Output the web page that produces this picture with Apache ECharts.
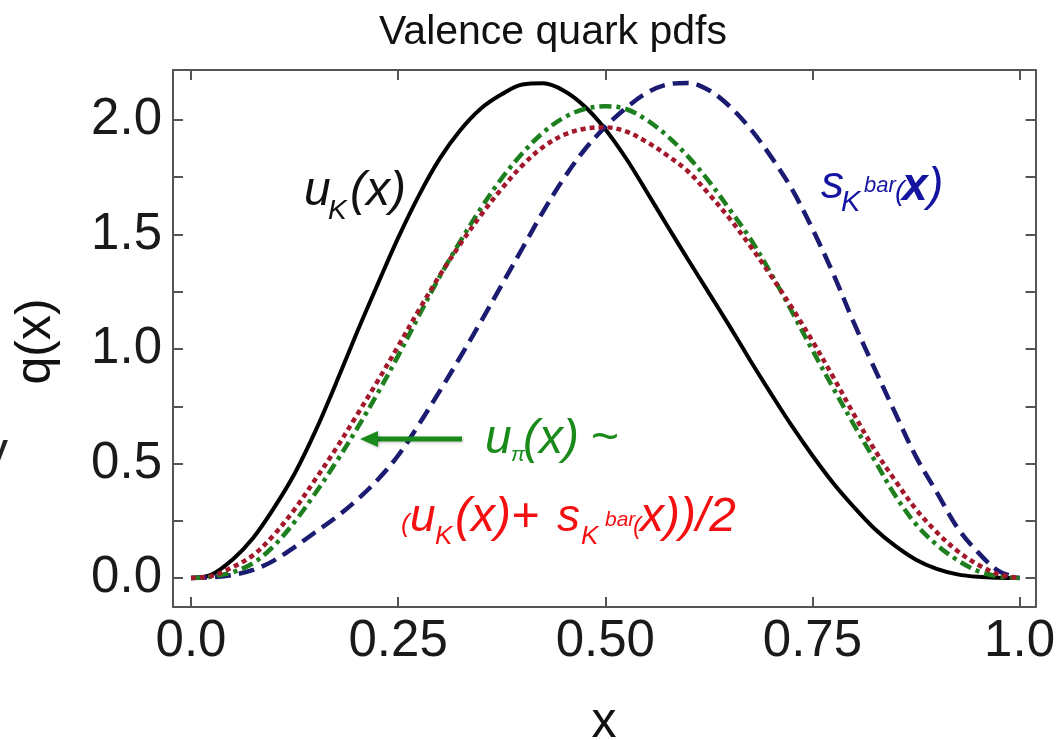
<!DOCTYPE html>
<html>
<head>
<meta charset="utf-8">
<script src="https://cdn.jsdelivr.net/npm/echarts@6/dist/echarts.min.js"></script>
<style>
html,body{margin:0;padding:0;background:#fff;}
#c{width:1058px;height:740px;}
</style>
</head>
<body>
<div id="c"></div>
<script>
// ---- data ----
const xTicks = [0, 0.25, 0.5, 0.75, 1.0];
const xTickLabels = ['0.0', '0.25', '0.50', '0.75', '1.0'];
const yTicks = [0, 0.25, 0.5, 0.75, 1.0, 1.25, 1.5, 1.75, 2.0];
const yLabelValues = [0, 0.5, 1.0, 1.5, 2.0];
const yTickLabels = ['0.0', '0.5', '1.0', '1.5', '2.0'];

// sample positions along x
const xs = [0,0.025,0.05,0.075,0.1,0.125,0.15,0.175,0.2,0.225,0.25,0.275,0.3,0.325,0.35,0.375,0.4,0.425,0.45,0.475,0.5,0.525,0.55,0.575,0.6,0.625,0.65,0.675,0.7,0.725,0.75,0.775,0.8,0.825,0.85,0.875,0.9,0.925,0.95,0.975,1.0];
// u_K(x)  (black solid)
const uK    = [0,0.015,0.08,0.175,0.305,0.455,0.64,0.85,1.07,1.28,1.485,1.67,1.83,1.955,2.05,2.112,2.155,2.16,2.128,2.06,1.96,1.833,1.687,1.537,1.39,1.245,1.1,0.95,0.805,0.665,0.535,0.415,0.31,0.215,0.14,0.08,0.04,0.016,0.005,0.001,0];
// s_K^bar(x)  (navy dashed)
const sKbar = [0,0.003,0.013,0.035,0.076,0.135,0.2,0.265,0.34,0.428,0.535,0.67,0.815,0.965,1.12,1.28,1.44,1.6,1.745,1.87,1.97,2.052,2.118,2.155,2.162,2.13,2.06,1.962,1.84,1.7,1.525,1.33,1.115,0.915,0.72,0.53,0.375,0.22,0.112,0.03,0];
// u_pi(x)  (green dash-dot)
const uPi   = [0,0.006,0.025,0.065,0.14,0.245,0.37,0.505,0.65,0.805,0.97,1.145,1.315,1.47,1.615,1.745,1.855,1.945,2.01,2.048,2.06,2.048,2.0,1.93,1.84,1.733,1.61,1.482,1.33,1.165,0.995,0.83,0.67,0.515,0.36,0.235,0.145,0.078,0.03,0.007,0];
// (u_K + s_K^bar)/2  (red dotted)
const uAvg  = [0,0.009,0.047,0.1,0.188,0.3,0.43,0.565,0.71,0.858,1.012,1.17,1.32,1.458,1.585,1.70,1.802,1.882,1.935,1.962,1.968,1.95,1.904,1.845,1.775,1.677,1.57,1.45,1.32,1.182,1.035,0.878,0.715,0.56,0.425,0.3,0.2,0.118,0.058,0.016,0];

// ---- layout ----
const XMIN = -0.0217, XMAX = 1.0193, YMIN = -0.1266, YMAX = 2.2183;
const FONT = '"Liberation Sans", Arial, Helvetica, sans-serif';
const FRAME = '#555';

function lab(vals, labels) {
  return function (v) {
    for (let i = 0; i < vals.length; i++) if (Math.abs(vals[i] - v) < 1e-9) return labels[i];
    return '';
  };
}
function axisX(pos, showLabel) {
  return {
    type: 'value', min: XMIN, max: XMAX, position: pos,
    axisLine: { show: true, onZero: false, lineStyle: { color: FRAME, width: 2 } },
    axisTick: { show: true, inside: true, length: 10, customValues: xTicks, lineStyle: { color: FRAME, width: 2 } },
    axisLabel: { show: showLabel, customValues: xTicks, formatter: lab(xTicks, xTickLabels), fontSize: 51, fontFamily: FONT, color: '#1a1a1a', margin: 9 },
    splitLine: { show: false }
  };
}
function axisY(pos, showLabel) {
  return {
    type: 'value', min: YMIN, max: YMAX, position: pos,
    axisLine: { show: true, onZero: false, lineStyle: { color: FRAME, width: 2 } },
    axisTick: { show: true, inside: true, length: 10, customValues: yTicks, lineStyle: { color: FRAME, width: 2 } },
    axisLabel: { show: showLabel, customValues: yLabelValues, formatter: lab(yLabelValues, yTickLabels), fontSize: 51, fontFamily: FONT, color: '#1a1a1a', margin: 11 },
    splitLine: { show: false }
  };
}
// text piece placed by its baseline
function t(str, x, base, size, color, italic, extra, bold) {
  return {
    type: 'text', z: 100,
    style: Object.assign({
      text: str, x: x, y: base - 0.33 * size,
      font: (italic ? 'italic ' : '') + (bold ? 'bold ' : '') + size + 'px ' + FONT,
      fill: color, align: 'left', verticalAlign: 'middle',
      textAlign: 'left', textVerticalAlign: 'middle'
    }, extra || {})
  };
}
const BLK = '#111', BLU = '#1414a0', GRN = '#1a8a1a', RED = '#f41010';

const graphics = [
  t('Valence quark pdfs', 553, 46, 41, '#111', false, { align: 'center', textAlign: 'center' }),
  { type: 'text', z: 100, x: 36, y: 341.5, rotation: Math.PI / 2,
    style: { text: 'q(x)', x: 0, y: 0, font: '50px ' + FONT, fill: '#111', align: 'center', verticalAlign: 'middle', textAlign: 'center', textVerticalAlign: 'middle' } },
  t('x', 604, 740, 50, '#111', false, { align: 'center', textAlign: 'center' }),
  t('y', -17, 470, 50, '#222', false),
  // u_K(x)
  t('u', 304, 207, 48, BLK, true),
  t('K', 328, 220, 28, BLK, true),
  t('(x)', 350, 207, 48, BLK, true),
  // s_K^bar(x)
  t('s', 821, 200, 46, BLU, true),
  t('K', 841, 213, 29, BLU, true),
  t('bar', 864, 193, 22, BLU, true),
  t('(', 895, 201, 28, BLU, true),
  t('x', 902, 202, 46, BLU, true, null, true),
  t(')', 928, 202, 46, BLU, true),
  // u_pi(x) ~
  t('u', 485, 455, 48, GRN, true),
  t('π', 511, 462, 21, GRN, true),
  t('(x)', 523, 455, 48, GRN, true),
  t('~', 591, 455, 48, GRN, false),
  // (u_K(x)+ s_K^bar(x))/2
  t('(', 401, 533, 26, RED, true),
  t('u', 410, 533, 46, RED, true),
  t('K', 435, 545, 26, RED, true),
  t('(x)+', 455, 533, 48, RED, true),
  t('s', 557, 533, 46, RED, true),
  t('K', 581, 545, 26, RED, true),
  t('bar', 605, 527, 21, RED, true),
  t('(', 633, 535, 24, RED, true),
  t('x))/2', 640, 533, 48, RED, true),
  // green arrow
  { type: 'line', z: 99, shape: { x1: 462, y1: 439, x2: 374, y2: 439 },
    style: { stroke: GRN, lineWidth: 5, shadowBlur: 3, shadowColor: 'rgba(0,0,0,0.25)', shadowOffsetX: 1, shadowOffsetY: 1 } },
  { type: 'polygon', z: 99, shape: { points: [[360, 439], [378, 431], [378, 447]] },
    style: { fill: GRN, shadowBlur: 3, shadowColor: 'rgba(0,0,0,0.25)', shadowOffsetX: 1, shadowOffsetY: 1 } }
];

function pairs(ys) { return xs.map((x, i) => [x, ys[i]]); }
function line(name, ys, color, type, width) {
  return {
    name: name, type: 'line', data: pairs(ys), xAxisIndex: 0, yAxisIndex: 0,
    smooth: 0.35, showSymbol: false, symbol: 'none', clip: true,
    lineStyle: { color: color, width: width, type: type, cap: 'butt' }
  };
}

const chart = echarts.init(document.getElementById('c'), null, { renderer: 'canvas' });
chart.setOption({
  animation: false,
  backgroundColor: '#fff',
  grid: { left: 173, right: 20, top: 70, bottom: 133, containLabel: false },
  xAxis: [axisX('bottom', true), axisX('top', false)],
  yAxis: [axisY('left', true), axisY('right', false)],
  series: [
    line('uK', uK, '#000', 'solid', 4),
    line('sKbar', sKbar, '#1b1b72', [16, 8], 4.5),
    line('uPi', uPi, '#1d7f1d', [12, 5, 4, 5], 4.5),
    line('avg', uAvg, '#a3182b', [5, 4], 4.5)
  ],
  graphic: graphics
});
</script>
</body>
</html>
